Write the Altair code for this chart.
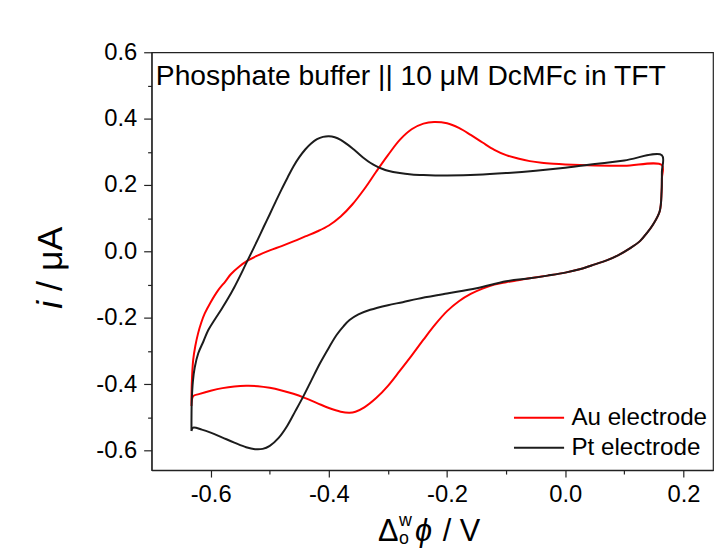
import altair as alt
import pandas as pd

# ---- data (potential / V, current / uA), in scan order ----
au_x = [-0.6325, -0.632, -0.6296, -0.626, -0.6213, -0.616, -0.610, -0.600, -0.5878, -0.575,
        -0.5655, -0.552, -0.5376, -0.52, -0.50, -0.48, -0.46, -0.44, -0.42, -0.40,
        -0.38, -0.36, -0.34, -0.32, -0.30, -0.28, -0.26, -0.24, -0.222, -0.20,
        -0.18, -0.16, -0.14, -0.12, -0.10, -0.08, -0.06, -0.04, -0.02, 0.0,
        0.05, 0.10, 0.1635,
        0.1635, 0.163, 0.1598, 0.1486, 0.138, 0.1264, 0.11, 0.09, 0.07, 0.05,
        0.026, 0.0, -0.03, -0.06, -0.08, -0.10, -0.12, -0.14, -0.16, -0.18,
        -0.20, -0.22, -0.24, -0.26, -0.28, -0.30, -0.32, -0.34, -0.355, -0.365,
        -0.38, -0.40, -0.42, -0.44, -0.46, -0.48, -0.50, -0.52, -0.54, -0.56,
        -0.58, -0.60, -0.62, -0.6296, -0.6325]
au_y = [-0.466, -0.400, -0.327, -0.285, -0.247, -0.215, -0.187, -0.153, -0.118, -0.090,
        -0.068, -0.046, -0.028, -0.012, 0.003, 0.016, 0.030, 0.045, 0.060, 0.078,
        0.105, 0.142, 0.188, 0.240, 0.290, 0.336, 0.368, 0.385, 0.390, 0.386,
        0.372, 0.351, 0.328, 0.306, 0.290, 0.280, 0.272, 0.267, 0.264, 0.262,
        0.259, 0.258, 0.260,
        0.220, 0.180, 0.121, 0.081, 0.055, 0.031, 0.010, -0.011, -0.027, -0.039,
        -0.053, -0.064, -0.073, -0.081, -0.087, -0.093, -0.100, -0.112, -0.128, -0.150,
        -0.180, -0.220, -0.266, -0.314, -0.360, -0.405, -0.442, -0.470, -0.483, -0.486,
        -0.483, -0.472, -0.457, -0.442, -0.429, -0.419, -0.411, -0.406, -0.405, -0.407,
        -0.412, -0.420, -0.430, -0.436, -0.466]

pt_x = [-0.6325, -0.632, -0.630, -0.627, -0.621, -0.612, -0.604, -0.593, -0.582, -0.571,
        -0.560, -0.550, -0.540, -0.530, -0.520, -0.510, -0.500, -0.490, -0.480, -0.470,
        -0.460, -0.450, -0.440, -0.430, -0.420, -0.410, -0.400, -0.390, -0.380, -0.370,
        -0.360, -0.350, -0.340, -0.330, -0.320, -0.310, -0.300, -0.28, -0.26, -0.24,
        -0.22, -0.20, -0.15, -0.10, -0.05, 0.0, 0.05, 0.10, 0.1635,
        0.1635, 0.163, 0.1598, 0.1486, 0.138, 0.1264, 0.11, 0.09, 0.07, 0.05,
        0.026, 0.0, -0.03, -0.06, -0.10, -0.15, -0.20, -0.25, -0.275, -0.30,
        -0.33, -0.35, -0.365, -0.375, -0.387, -0.40, -0.415, -0.43, -0.443, -0.457,
        -0.4706, -0.485, -0.50, -0.512, -0.525, -0.54, -0.56, -0.58, -0.60, -0.615,
        -0.6296, -0.6325]
pt_y = [-0.541, -0.450, -0.390, -0.350, -0.307, -0.270, -0.237, -0.205, -0.175, -0.143,
        -0.108, -0.073, -0.036, 0.000, 0.037, 0.075, 0.112, 0.150, 0.187, 0.222,
        0.256, 0.284, 0.307, 0.325, 0.338, 0.345, 0.347, 0.344, 0.336, 0.324,
        0.310, 0.295, 0.280, 0.267, 0.257, 0.249, 0.243, 0.236, 0.232, 0.230,
        0.229, 0.229, 0.231, 0.236, 0.243, 0.252, 0.263, 0.274, 0.290,
        0.240, 0.180, 0.121, 0.081, 0.055, 0.031, 0.010, -0.011, -0.027, -0.039,
        -0.053, -0.064, -0.073, -0.081, -0.090, -0.111, -0.127, -0.143, -0.153, -0.162,
        -0.176, -0.190, -0.207, -0.225, -0.252, -0.290, -0.337, -0.390, -0.436, -0.482,
        -0.526, -0.562, -0.586, -0.595, -0.596, -0.590, -0.576, -0.561, -0.546, -0.537,
        -0.531, -0.541]

series_names = ["Au electrode", "Pt electrode"]
series_colors = ["#ff0000", "#1c1c1c"]
x_major = [-0.6, -0.4, -0.2, 0.0, 0.2]
x_minor = [-0.5, -0.3, -0.1, 0.1]
y_major = [-0.6, -0.4, -0.2, 0.0, 0.2, 0.4, 0.6]
y_minor = [-0.5, -0.3, -0.1, 0.1, 0.3, 0.5]
x_domain = [-0.7, 0.25]
y_domain = [-0.659, 0.6]
title_text = "Phosphate buffer || 10 \u03bcM DcMFc in TFT"

rows = []
for name, xs_, ys_ in ((series_names[0], au_x, au_y), (series_names[1], pt_x, pt_y)):
    for i, (a, b) in enumerate(zip(xs_, ys_)):
        rows.append({"series": name, "E": a, "I": b, "k": i})
df = pd.DataFrame(rows)

W, H = 567, 422
FONT = "Liberation Sans"
label_expr = "datum.value < 0 ? '-' + format(-datum.value, '.1f') : format(datum.value, '.1f')"

xsc = alt.Scale(domain=x_domain, nice=False, zero=False)
ysc = alt.Scale(domain=y_domain, nice=False, zero=False)
color = alt.Color("series:N", scale=alt.Scale(domain=series_names, range=series_colors), legend=None)

lines = alt.Chart(df).mark_line(strokeWidth=2, interpolate="catmull-rom").encode(
    x=alt.X("E:Q", scale=xsc, axis=alt.Axis(values=x_major, orient="bottom", title=None,
                                             tickSize=7, labelPadding=6, labelExpr=label_expr)),
    y=alt.Y("I:Q", scale=ysc, axis=alt.Axis(values=y_major, orient="left", title=None,
                                             tickSize=8, labelPadding=7, labelExpr=label_expr)),
    color=color,
    order="k:Q",
)

minor = alt.Chart(df).mark_point(opacity=0).encode(
    x=alt.X("E:Q", scale=xsc, axis=alt.Axis(values=x_minor, orient="bottom", title=None,
                                             labels=False, domain=False, tickSize=4)),
    y=alt.Y("I:Q", scale=ysc, axis=alt.Axis(values=y_minor, orient="left", title=None,
                                             labels=False, domain=False, tickSize=4)),
)


def txt(text, x, y, size, style="normal", align="left", baseline="alphabetic", angle=0):
    return alt.Chart(pd.DataFrame({"t": [text]})).mark_text(
        font=FONT, fontSize=size, fontStyle=style, align=align, baseline=baseline,
        angle=angle, color="black").encode(text="t:N", x=alt.value(x), y=alt.value(y))


def leg_line(col, x1, x2, y):
    return alt.Chart(pd.DataFrame({"a": [0]})).mark_rule(color=col, strokeWidth=2).encode(
        x=alt.value(x1), x2=alt.value(x2), y=alt.value(y))


annotations = [
    txt(title_text, 4.3, 33, 28.5),
    # y title: i / uA (rotated)
    txt("i", -90, 259, 36, style="italic", angle=270),
    txt("/ \u03bcA", -90, 241, 36, angle=270),
    # x title: Delta^w_o phi / V
    txt("\u0394", 228.7, 494, 31),
    txt("w", 250, 478, 18),
    txt("o", 250, 497, 18),
    txt("\u03d5", 266, 494, 31, style="italic"),
    txt("/ V", 294, 494, 31),
    # legend
    leg_line(series_colors[0], 366, 416.6, 369),
    txt(series_names[0], 424, 369, 24.4, baseline="middle"),
    leg_line(series_colors[1], 366, 416.6, 399.3),
    txt(series_names[1], 424, 399.3, 24.4, baseline="middle"),
]

chart = alt.layer(lines, minor, *annotations).resolve_axis(
    x="independent", y="independent"
).properties(
    width=W, height=H,
    autosize=alt.AutoSizeParams(type="none"),
    padding={"left": 145, "top": 42, "right": 1, "bottom": 80},
    background="white",
).configure_view(
    stroke="#222222", strokeWidth=1.2
).configure_axis(
    domainColor="#222222", tickColor="#222222", domainWidth=1.2, tickWidth=1.2,
    labelColor="black", labelFont=FONT, labelFontSize=24, grid=False,
)

chart.save("out.html", embed_options={"renderer": "svg", "actions": False})
